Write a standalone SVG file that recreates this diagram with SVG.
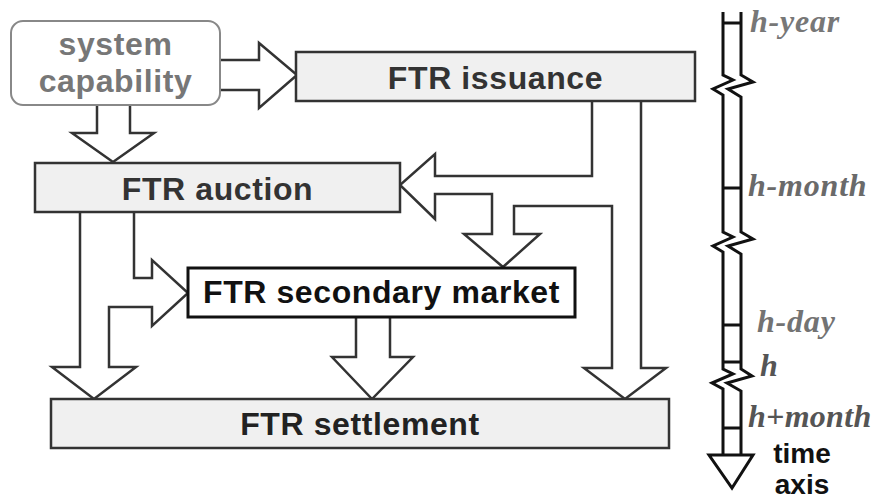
<svg xmlns="http://www.w3.org/2000/svg" width="879" height="500" viewBox="0 0 879 500">
<style>
.box{fill:#f0f0f0;stroke:#333;stroke-width:2.5}
.lbl{font-family:"Liberation Sans",Arial,sans-serif;font-weight:bold;font-size:32px;letter-spacing:0.6px;text-anchor:middle}
.conn{fill:#fff;stroke:#333;stroke-width:2.5;stroke-linejoin:miter}
.ax{fill:none;stroke:#111;stroke-width:3}
.tl{font-family:"Liberation Serif","Times New Roman",serif;font-weight:bold;font-style:italic;font-size:32px;letter-spacing:0.8px}
</style>
<rect width="879" height="500" fill="#fff"/>
<g id="connectors">
<path class="conn" d="M220,60 H259 V43 L297,75 L259,108 V90 H220"/>
<path class="conn" d="M97,105 V133 H72 L113,162 L154,133 H130 V105"/>
<path class="conn" d="M592,101 V176 H435 V154 L400,185 L435,219 V194 H492 V234 H464 L503,267 L540,234 H514 V206 H612 V368 H584 L625,399 L666,368 H641 V101"/>
<path class="conn" d="M80,213 V367 H52 L94,399 L136,367 H109 V307 H152 V326 L188,293 L152,260 V278 H134 V213"/>
<path class="conn" d="M356,317 V357 H332 L372,399 L413,357 H390 V317"/>
</g>
<g id="system-capability">
<rect x="11" y="21" width="209" height="84" rx="12" fill="#fff" stroke="#888" stroke-width="2"/>
<text class="lbl" x="115.5" y="55" fill="#777">system</text>
<text class="lbl" x="115.5" y="92" fill="#777">capability</text>
</g>
<g id="ftr-issuance">
<rect class="box" x="296" y="52" width="399" height="49"/>
<text class="lbl" x="495.5" y="89" fill="#333">FTR issuance</text>
</g>
<g id="ftr-auction">
<rect class="box" x="35" y="163" width="365" height="49"/>
<text class="lbl" x="217.5" y="200" fill="#333">FTR auction</text>
</g>
<g id="ftr-secondary-market">
<rect x="188" y="268" width="387" height="49" fill="#fff" stroke="#111" stroke-width="3"/>
<text class="lbl" x="381.5" y="303" fill="#111">FTR secondary market</text>
</g>
<g id="ftr-settlement">
<rect class="box" x="51" y="399" width="618" height="49"/>
<text class="lbl" x="360" y="435" fill="#222">FTR settlement</text>
</g>
<g id="time-axis">
<path class="ax" d="M723,12 V75 L733,80 L713,89 L723,95 V232 L733,237 L713,246 L723,252 V369 L733,374 L712,383 L723,389 V455"/>
<path class="ax" d="M741,12 V75 L753,82 L728,89 L741,97 V232 L753,239 L728,246 L741,254 V369 L752,376 L727,383 L741,391 V455"/>
<path class="ax" d="M723,23 H741 M723,188 H741 M723,325 H741 M723,362 H741 M723,428 H741"/>
<path class="ax" d="M709,455 H753 L732,488 Z" fill="#fff"/>
<text class="tl" x="750" y="32" fill="#777">h-year</text>
<text class="tl" x="748" y="196" fill="#6a6a6a">h-month</text>
<text class="tl" x="757" y="332" fill="#737373">h-day</text>
<text class="tl" x="760" y="376" fill="#555">h</text>
<text class="tl" x="748" y="427" fill="#555" style="letter-spacing:0.3px">h+month</text>
<text class="lbl" x="802" y="463" fill="#111" style="font-size:28px;letter-spacing:0">time</text>
<text class="lbl" x="802" y="494" fill="#111" style="font-size:28px;letter-spacing:0">axis</text>
</g>
</svg>
